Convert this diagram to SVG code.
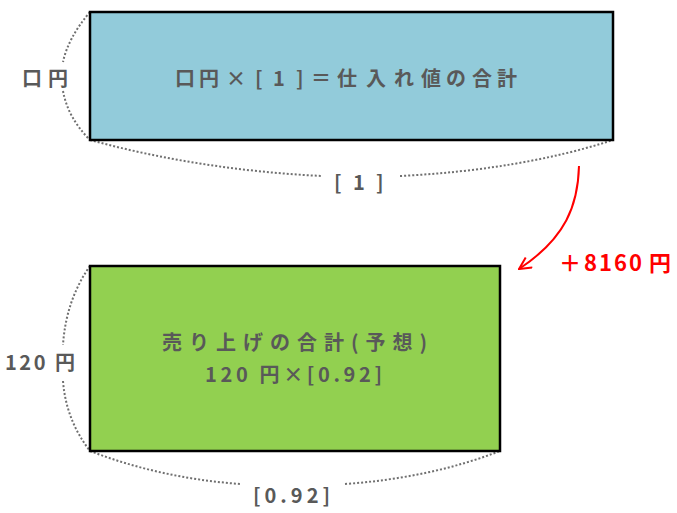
<svg xmlns="http://www.w3.org/2000/svg" width="677" height="513" viewBox="0 0 677 513">
<style>
.t{font-family:"Noto Sans CJK JP","Noto Sans CJK SC",sans-serif;font-size:20px;fill:#595959;font-weight:bold}
.dot{fill:none;stroke:#707070;stroke-width:2;stroke-dasharray:2 2}
.box{stroke:#000;stroke-width:2.5}
</style>
<defs>
<marker id="ah" markerWidth="14" markerHeight="14" refX="13" refY="7" orient="auto" markerUnits="userSpaceOnUse" viewBox="0 0 14 14">
<path d="M1,1 L13,7 L1,13" fill="none" stroke="#ff0000" stroke-width="2"/>
</marker>
</defs>
<rect width="677" height="513" fill="#fff"/>
<g id="connectors">
<path class="dot" d="M90,12 Q68,38 63,62"/>
<path class="dot" d="M63,91 Q68,118 90,140"/>
<path class="dot" d="M90,140 Q200,170 322,176"/>
<path class="dot" d="M400,176 Q520,170 613,140"/>
<path class="dot" d="M90,266 Q66,300 63,345"/>
<path class="dot" d="M63,381 Q66,420 90,451"/>
<path class="dot" d="M90,451 Q160,478 240,484"/>
<path class="dot" d="M345,484 Q430,478 500,451"/>
<path d="M579,166 C578,205 566,238 519,269" fill="none" stroke="#ff0000" stroke-width="2" marker-end="url(#ah)"/>
</g>
<g id="node-top">
<rect class="box" x="90" y="12" width="523" height="128" fill="#92cbda"/>
<text class="t" x="175 199 226 255 273 296 311 337 366 394 421 446 472 497" y="86">口円×[1]＝仕入れ値の合計</text>
</g>
<g id="node-bottom">
<rect class="box" x="90" y="266" width="410" height="185" fill="#92d050"/>
<text class="t" x="162" y="350" textLength="265" lengthAdjust="spacing">売り上げの合計(予想)</text>
<text class="t" x="205" y="382" textLength="177" lengthAdjust="spacing">120 円×[0.92]</text>
</g>
<g id="labels">
<text class="t" x="22" y="86" textLength="46" lengthAdjust="spacing">口円</text>
<text class="t" x="334 353 376" y="190">[1]</text>
<text class="t" x="5" y="370" textLength="70" lengthAdjust="spacing">120 円</text>
<text class="t" x="253" y="503" textLength="77" lengthAdjust="spacing">[0.92]</text>
<text class="t" x="559 584 599 614 629 649" y="271" style="fill:#ff0000;font-size:22px">＋8160円</text>
</g>
</svg>
